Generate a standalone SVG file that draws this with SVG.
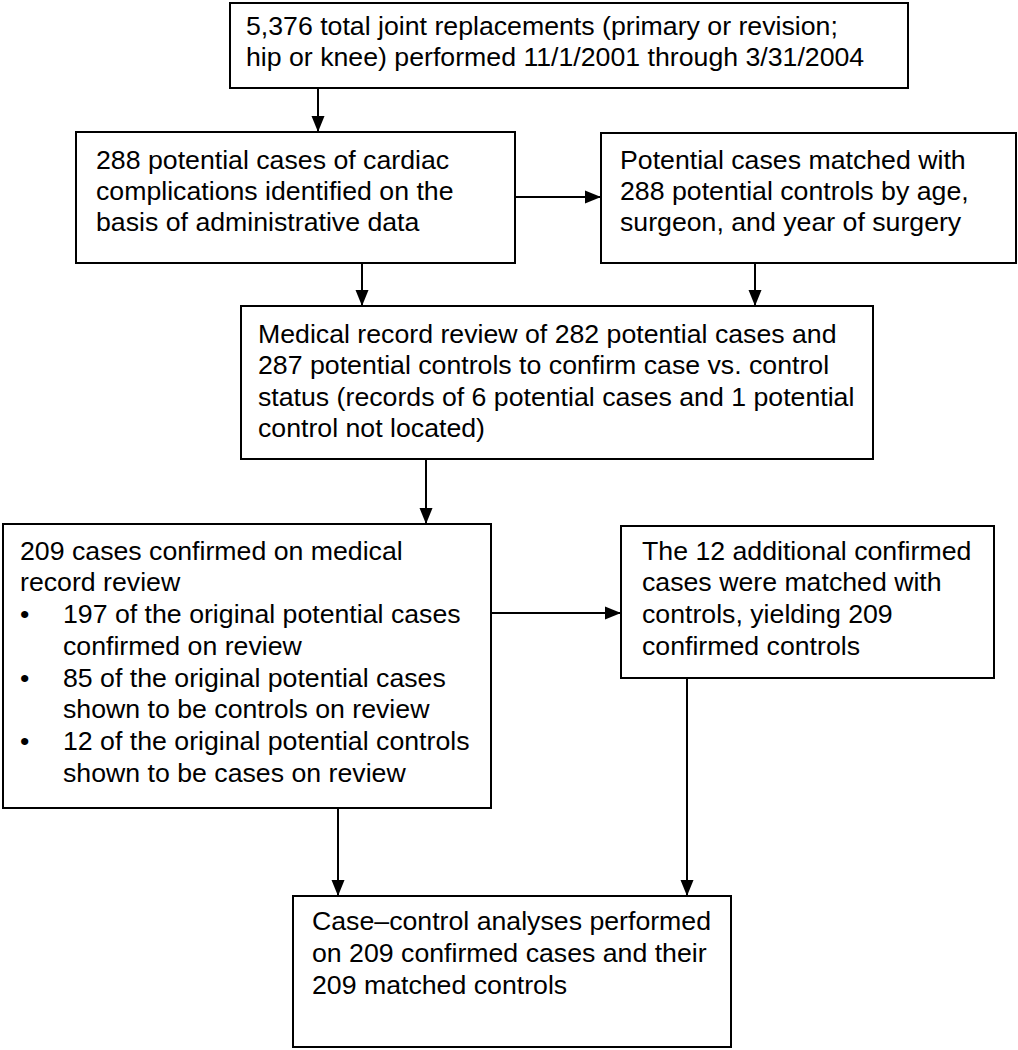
<svg xmlns="http://www.w3.org/2000/svg" width="1018" height="1050" viewBox="0 0 1018 1050">
<style>
.box{fill:#fff;stroke:#000;stroke-width:2}
.t{font-family:"Liberation Sans",Arial,sans-serif;font-size:26.7px;fill:#000}
.c{stroke:#000;stroke-width:2;fill:none}
</style>
<defs>
<marker id="ah" markerUnits="userSpaceOnUse" markerWidth="16" markerHeight="14" viewBox="0 0 16 14" refX="16" refY="7" orient="auto">
<path d="M0,0.5 L16,7 L0,13.5 Z" fill="#000"/>
</marker>
</defs>
<rect width="1018" height="1050" fill="#fff"/>
<g id="connectors">
<line class="c" x1="318" y1="88" x2="318" y2="132" marker-end="url(#ah)"/>
<line class="c" x1="515" y1="197" x2="601" y2="197" marker-end="url(#ah)"/>
<line class="c" x1="362" y1="263" x2="362" y2="306" marker-end="url(#ah)"/>
<line class="c" x1="755" y1="263" x2="755" y2="306" marker-end="url(#ah)"/>
<line class="c" x1="426" y1="459" x2="426" y2="524" marker-end="url(#ah)"/>
<line class="c" x1="491" y1="613" x2="621" y2="613" marker-end="url(#ah)"/>
<line class="c" x1="338" y1="808" x2="338" y2="896" marker-end="url(#ah)"/>
<line class="c" x1="687" y1="678" x2="687" y2="896" marker-end="url(#ah)"/>
</g>
<g id="n1">
<rect class="box" x="230" y="3" width="678" height="85"/>
<text class="t" x="246" y="35">5,376 total joint replacements (primary or revision;</text>
<text class="t" x="246" y="66">hip or knee) performed 11/1/2001 through 3/31/2004</text>
</g>
<g id="n2">
<rect class="box" x="76" y="132" width="439" height="131"/>
<text class="t" x="96" y="169">288 potential cases of cardiac</text>
<text class="t" x="96" y="200">complications identified on the</text>
<text class="t" x="96" y="231">basis of administrative data</text>
</g>
<g id="n3">
<rect class="box" x="601" y="133" width="415" height="130"/>
<text class="t" x="620" y="169">Potential cases matched with</text>
<text class="t" x="620" y="200">288 potential controls by age,</text>
<text class="t" x="620" y="231">surgeon, and year of surgery</text>
</g>
<g id="n4">
<rect class="box" x="241" y="306" width="632" height="153"/>
<text class="t" x="258" y="343">Medical record review of 282 potential cases and</text>
<text class="t" x="258" y="374">287 potential controls to confirm case vs. control</text>
<text class="t" x="258" y="406">status (records of 6 potential cases and 1 potential</text>
<text class="t" x="258" y="437">control not located)</text>
</g>
<g id="n5">
<rect class="box" x="3" y="524" width="488" height="284"/>
<text class="t" x="20" y="560">209 cases confirmed on medical</text>
<text class="t" x="20" y="591">record review</text>
<text class="t" x="20" y="623">•</text>
<text class="t" x="63" y="623">197 of the original potential cases</text>
<text class="t" x="63" y="655">confirmed on review</text>
<text class="t" x="20" y="687">•</text>
<text class="t" x="63" y="687">85 of the original potential cases</text>
<text class="t" x="63" y="718">shown to be controls on review</text>
<text class="t" x="20" y="750">•</text>
<text class="t" x="63" y="750">12 of the original potential controls</text>
<text class="t" x="63" y="782">shown to be cases on review</text>
</g>
<g id="n6">
<rect class="box" x="621" y="526" width="373" height="152"/>
<text class="t" x="642" y="560">The 12 additional confirmed</text>
<text class="t" x="642" y="591">cases were matched with</text>
<text class="t" x="642" y="623">controls, yielding 209</text>
<text class="t" x="642" y="655">confirmed controls</text>
</g>
<g id="n7">
<rect class="box" x="293" y="896" width="438" height="151"/>
<text class="t" x="312" y="930">Case–control analyses performed</text>
<text class="t" x="312" y="962">on 209 confirmed cases and their</text>
<text class="t" x="312" y="994">209 matched controls</text>
</g>
</svg>
